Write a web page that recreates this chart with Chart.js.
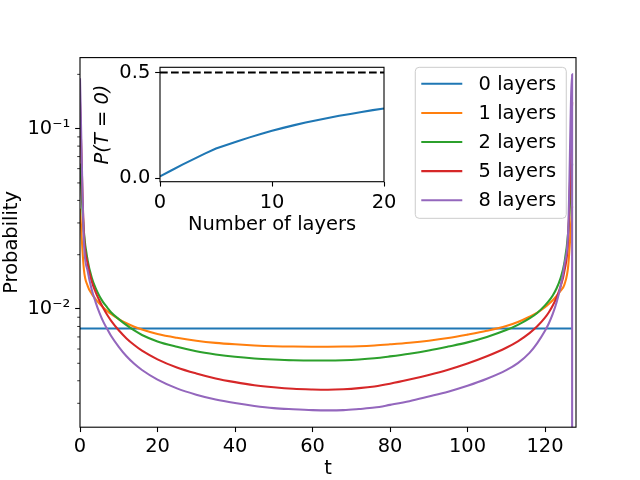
<!DOCTYPE html>
<html><head><meta charset="utf-8">
<script src="https://cdn.jsdelivr.net/npm/chart.js@4.4.1/dist/chart.umd.min.js"></script>
<style>
html,body{margin:0;padding:0;background:#fff;}
#wrap{position:relative;width:640px;height:480px;background:#fff;}
#wrap canvas{position:absolute;left:0;top:0;width:640px;height:480px;}
</style></head><body>
<div id="wrap"><canvas id="main" width="640" height="480"></canvas><canvas id="inset" width="640" height="480"></canvas></div>
<script>
// ---------- data ----------
const tGrid = [0,1,2,3,4,5,6,7,8,10,12,14,16,20,25,30,35,40,45,50,55,60,64,68,72,76,80,85,90,95,100,105,110,113,116,118,120,121,122,123,124,125,126,127,127];
const blueT = [0, 127];
const layers0 = [0.0078, 0.0078];
const layers1 = [0.0360,0.0166,0.0134,0.01217,0.01135,0.01072,0.01019,0.00975,0.00938,0.00879,0.00834,0.00798,0.00769,0.00726,0.00692,0.00667,0.00649,0.00637,0.00628,0.00622,0.00619,0.00618,0.00618,0.00619,0.00622,0.00628,0.00637,0.00650,0.00667,0.00690,0.00721,0.00757,0.00804,0.00847,0.00906,0.00955,0.01023,0.01067,0.01117,0.01180,0.01259,0.01365,0.01738,0.0370,null];
const layers2 = [0.064,0.0269,0.0185,0.0150,0.01309,0.01180,0.01089,0.01021,0.00959,0.00879,0.00813,0.00760,0.00718,0.00661,0.00617,0.00583,0.00560,0.00543,0.00532,0.00525,0.00520,0.00518,0.00518,0.00520,0.00525,0.00533,0.00546,0.00565,0.00589,0.00619,0.00653,0.00700,0.00764,0.00817,0.00887,0.00951,0.01047,0.01109,0.01189,0.01303,0.01479,0.01799,0.0269,0.064,null];
const layers5 = [0.14,0.0263,0.0177,0.01429,0.01245,0.01114,0.01012,0.00929,0.00863,0.00762,0.00687,0.00631,0.00587,0.00526,0.00474,0.00439,0.00412,0.00393,0.00378,0.00368,0.00361,0.00358,0.00357,0.00359,0.00364,0.00372,0.00385,0.00406,0.00431,0.00461,0.00499,0.00547,0.00610,0.00662,0.00735,0.00802,0.00895,0.00959,0.01045,0.01161,0.01334,0.01622,0.0251,0.14,null];
const layers8 = [0.19,0.0240,0.0162,0.01288,0.01096,0.00955,0.00851,0.00776,0.00711,0.00617,0.00547,0.00497,0.00459,0.00406,0.00363,0.00335,0.00315,0.00301,0.00290,0.00282,0.00278,0.00275,0.00274,0.00275,0.00279,0.00284,0.00294,0.00308,0.00327,0.00348,0.00375,0.00410,0.00458,0.00501,0.00571,0.00647,0.00757,0.00834,0.00940,0.01091,0.01327,0.0175,0.0277,0.20,0.000001];
const seriesLabels = ['0 layers','1 layers','2 layers','5 layers','8 layers'];
const seriesColors = ['#1f77b4','#ff7f0e','#2ca02c','#d62728','#9467bd'];
const xTicks = [0,20,40,60,80,100,120];
const yMajorTicks = [0.01, 0.1];
const yMajorLabels = ['10\u207B\u00B2','10\u207B\u00B9'];
const yMinorTicks = [0.003,0.004,0.005,0.006,0.007,0.008,0.009,0.02,0.03,0.04,0.05,0.06,0.07,0.08,0.09,0.2];

// inset data
const nLayers = [0,1,2,3,4,5,6,7,8,9,10,11,12,13,14,15,16,17,18,19,20];
const pT0 = [0.008,0.036,0.064,0.090,0.116,0.140,0.158,0.176,0.193,0.209,0.224,0.238,0.251,0.263,0.274,0.285,0.295,0.304,0.313,0.322,0.330];
const refX = [0, 20];
const refP = [0.5, 0.5];
const insetXTicks = [0,10,20];
const insetYTicks = [0, 0.5];

// ---------- helpers ----------
const FS = 19.44;
const FONT = 'DejaVu Sans';
Chart.defaults.font.family = FONT;
Chart.defaults.font.size = FS;
Chart.defaults.color = '#000';
const zip = (xs, ys) => xs.map((x, i) => ({x: x, y: ys[i]}));

function roundRectPath(ctx, x, y, w, h, r) {
  ctx.beginPath();
  ctx.moveTo(x + r, y);
  ctx.lineTo(x + w - r, y);
  ctx.arcTo(x + w, y, x + w, y + r, r);
  ctx.lineTo(x + w, y + h - r);
  ctx.arcTo(x + w, y + h, x + w - r, y + h, r);
  ctx.lineTo(x + r, y + h);
  ctx.arcTo(x, y + h, x, y + h - r, r);
  ctx.lineTo(x, y + r);
  ctx.arcTo(x, y, x + r, y, r);
  ctx.closePath();
}

const mainDecor = {
  id: 'mainDecor',
  afterDraw(chart) {
    const ctx = chart.ctx, a = chart.chartArea;
    const ys = chart.scales.y;
    ctx.save();
    ctx.strokeStyle = '#000';
    ctx.lineWidth = 0.8;
    yMinorTicks.forEach(v => {
      const py = ys.getPixelForValue(v);
      if (py < a.top - 0.5 || py > a.bottom + 0.5) return;
      ctx.beginPath();
      ctx.moveTo(a.left, py);
      ctx.lineTo(a.left - 2.78, py);
      ctx.stroke();
    });
    ctx.lineWidth = 1.1;
    ctx.strokeRect(a.left, a.top, a.right - a.left, a.bottom - a.top);
    // legend
    const w = 151, h = 151;
    const lx = a.right - 9.72 - w, ly = a.top + 9.72;
    ctx.fillStyle = 'rgba(255,255,255,0.8)';
    roundRectPath(ctx, lx, ly, w, h, 3.9);
    ctx.fill();
    ctx.strokeStyle = '#cccccc';
    ctx.lineWidth = 1;
    ctx.stroke();
    ctx.font = FS + 'px "' + FONT + '"';
    ctx.textBaseline = 'middle';
    ctx.textAlign = 'left';
    chart.data.datasets.forEach((ds, i) => {
      const ry = ly + 16.5 + i * 29.1;
      ctx.strokeStyle = ds.borderColor;
      ctx.lineWidth = 2.08;
      ctx.beginPath();
      ctx.moveTo(lx + 6, ry);
      ctx.lineTo(lx + 47, ry);
      ctx.stroke();
      ctx.fillStyle = '#000';
      ctx.fillText(ds.label, lx + 63.3, ry + 1);
    });
    ctx.restore();
  }
};

const datasetsMain = [
  {label: seriesLabels[0], data: zip(blueT, layers0), borderColor: seriesColors[0], order: 5},
  {label: seriesLabels[1], data: zip(tGrid, layers1), borderColor: seriesColors[1], order: 4},
  {label: seriesLabels[2], data: zip(tGrid, layers2), borderColor: seriesColors[2], order: 3},
  {label: seriesLabels[3], data: zip(tGrid, layers5), borderColor: seriesColors[3], order: 2},
  {label: seriesLabels[4], data: zip(tGrid, layers8), borderColor: seriesColors[4], order: 1}
].map(d => Object.assign(d, {borderWidth: 2.08, pointRadius: 0, fill: false, cubicInterpolationMode: 'monotone', clip: 0}));

new Chart(document.getElementById('main'), {
  type: 'line',
  data: {datasets: datasetsMain},
  options: {
    responsive: false, animation: false, devicePixelRatio: 1,
    layout: {padding: {left: 0, top: 57.6, right: 64, bottom: 0}},
    plugins: {legend: {display: false}, tooltip: {enabled: false}},
    scales: {
      x: {
        type: 'linear', min: 0, max: 128,
        afterBuildTicks: s => { s.ticks = xTicks.map(v => ({value: v})); },
        afterFit: s => { s.height = 52.8; },
        ticks: {padding: 3, autoSkip: false, maxRotation: 0, color: '#000', font: {size: FS}},
        grid: {drawOnChartArea: false, tickLength: 4.86, tickWidth: 1.1, tickColor: '#000'},
        border: {display: false},
        title: {display: true, text: 't', color: '#000', font: {size: FS, lineHeight: 1.1}, padding: {top: 0, bottom: 0}}
      },
      y: {
        type: 'logarithmic', min: 0.002211, max: 0.2477,
        afterBuildTicks: s => { s.ticks = yMajorTicks.map(v => ({value: v, major: true})); },
        afterFit: s => { s.width = 80; },
        ticks: {padding: 4.86, autoSkip: false, color: '#000', font: {size: FS},
          callback: v => { const i = yMajorTicks.indexOf(v); return i >= 0 ? yMajorLabels[i] : ''; }},
        grid: {drawOnChartArea: false, tickLength: 4.86, tickWidth: 1.1, tickColor: '#000'},
        border: {display: false},
        title: {display: true, text: 'Probability', color: '#000', font: {size: FS}, padding: {top: 0, bottom: 0}}
      }
    }
  },
  plugins: [mainDecor]
});

// ---------- inset ----------
const insetDecor = {
  id: 'insetDecor',
  beforeDatasetsDraw(chart) {
    const ctx = chart.ctx, a = chart.chartArea;
    ctx.save();
    ctx.fillStyle = '#fff';
    ctx.fillRect(a.left, a.top, a.right - a.left, a.bottom - a.top);
    ctx.restore();
  },
  afterDraw(chart) {
    const ctx = chart.ctx, a = chart.chartArea;
    ctx.save();
    ctx.strokeStyle = '#000';
    ctx.lineWidth = 1.1;
    ctx.strokeRect(a.left, a.top, a.right - a.left, a.bottom - a.top);
    ctx.restore();
  }
};

new Chart(document.getElementById('inset'), {
  type: 'line',
  data: {datasets: [
    {label: 'P(T=0)', data: zip(nLayers, pT0), borderColor: '#1f77b4', borderWidth: 2.08, pointRadius: 0, fill: false, clip: 0},
    {label: '0.5', data: zip(refX, refP), borderColor: '#000', borderWidth: 2.08, borderDash: [7.7, 3.3], pointRadius: 0, fill: false, clip: 0}
  ]},
  options: {
    responsive: false, animation: false, devicePixelRatio: 1,
    layout: {padding: {left: 90, top: 67.3, right: 256, bottom: 238.3}},
    plugins: {legend: {display: false}, tooltip: {enabled: false}},
    scales: {
      x: {
        type: 'linear', min: 0, max: 20,
        afterBuildTicks: s => { s.ticks = insetXTicks.map(v => ({value: v})); },
        afterFit: s => { s.height = 60; },
        ticks: {padding: 4.5, autoSkip: false, maxRotation: 0, color: '#000', font: {size: FS}},
        grid: {drawOnChartArea: false, tickLength: 4.86, tickWidth: 1.1, tickColor: '#000'},
        border: {display: false},
        title: {display: true, text: 'Number of layers', color: '#000', font: {size: FS}, padding: {top: 0, bottom: 5.3}}
      },
      y: {
        type: 'linear', min: -0.017, max: 0.525,
        afterBuildTicks: s => { s.ticks = insetYTicks.map(v => ({value: v})); },
        afterFit: s => { s.width = 70; },
        ticks: {padding: 4.86, autoSkip: false, color: '#000', font: {size: FS}, callback: v => Number(v).toFixed(1)},
        grid: {drawOnChartArea: false, tickLength: 4.86, tickWidth: 1.1, tickColor: '#000'},
        border: {display: false},
        title: {display: true, text: 'P(T = 0)', color: '#000', font: {size: FS, style: 'italic'}, padding: {top: 1, bottom: 0}}
      }
    }
  },
  plugins: [insetDecor]
});
</script>
</body></html>
